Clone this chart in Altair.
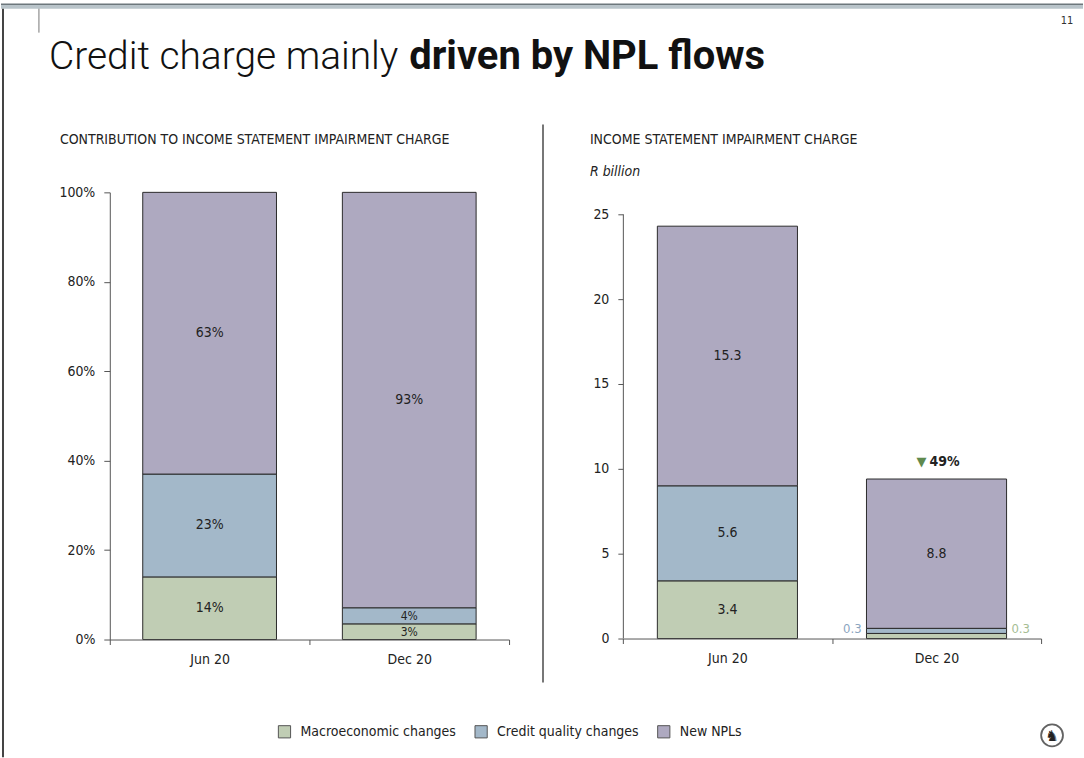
import altair as alt
import pandas as pd

# ---------------- data ----------------
periods = ["Jun 20", "Dec 20"]
series = ["Macroeconomic changes", "Credit quality changes", "New NPLs"]
colors = ["#c0cdb4", "#a3b8c9", "#aea9c0"]

pct_jun = [14, 23, 63]
pct_dec = [3.5, 3.6, 92.9]
pct_labels_jun = ["14%", "23%", "63%"]
pct_labels_dec = ["3%", "4%", "93%"]

rbn_jun = [3.4, 5.6, 15.3]
rbn_dec = [0.3, 0.3, 8.8]
rbn_labels_jun = ["3.4", "5.6", "15.3"]
rbn_labels_dec = ["0.3", "0.3", "8.8"]

change_label = "49%"

pct_ticks = [0, 20, 40, 60, 80, 100]
rbn_ticks = [0, 5, 10, 15, 20, 25]

title_light = "Credit charge mainly"
title_bold = "driven by NPL flows"
left_sub = "CONTRIBUTION TO INCOME STATEMENT IMPAIRMENT CHARGE"
right_sub = "INCOME STATEMENT IMPAIRMENT CHARGE"
right_unit = "R billion"
page_no = "11"

NARROW = "Liberation Sans Narrow, DejaVu Sans Condensed, Arial Narrow, sans-serif"


def frame(vals_a, vals_b, labs_a, labs_b):
    rows = []
    for p, vals, labs in [(periods[0], vals_a, labs_a), (periods[1], vals_b, labs_b)]:
        for i, (s, v, l) in enumerate(zip(series, vals, labs)):
            rows.append({"period": p, "series": s, "order": i, "value": v, "label": l})
    return pd.DataFrame(rows)


pct_df = frame(pct_jun, pct_dec, pct_labels_jun, pct_labels_dec)
rbn_df = frame(rbn_jun, rbn_dec, rbn_labels_jun, rbn_labels_dec)
one = pd.DataFrame({"k": [0]})

color = alt.Color(
    "series:N",
    scale=alt.Scale(domain=series, range=colors),
    legend=alt.Legend(
        title=None,
        orient="none",
        direction="horizontal",
        legendX=168,
        legendY=533,
        symbolType="square",
        symbolSize=150,
        symbolStrokeColor="#555",
        symbolStrokeWidth=1,
        labelFont=NARROW,
        labelFontSize=14,
        labelColor="#222",
        labelOffset=9,
        columnPadding=16,
    ),
)

xband = alt.Scale(domain=periods, paddingInner=0, paddingOuter=0)
xaxis = alt.Axis(
    title=None,
    labelAngle=0,
    tickBand="extent",
    tickSize=5,
    labelPadding=8,
    labelFont=NARROW,
    labelFontSize=14,
    labelColor="#222",
    domainColor="#555",
    tickColor="#555",
    grid=False,
    zindex=1,
)
BAR_FRAC = 0.67


def stacked(df):
    return (
        alt.Chart(df)
        .transform_stack(stack="value", as_=["y0", "y1"], groupby=["period"],
                         sort=[alt.SortField("order", order="ascending")])
        .transform_calculate(mid="(datum.y0 + datum.y1) / 2")
    )


# ---------------- left panel ----------------
W1, H1 = 400, 448
base1 = stacked(pct_df)
yscale1 = alt.Scale(domain=[0, 100])

bars1 = base1.mark_bar(stroke="#2b2b2b", strokeWidth=1, width=alt.RelativeBandSize(BAR_FRAC)).encode(
    x=alt.X("period:N", sort=periods, scale=xband, axis=xaxis),
    y=alt.Y("y0:Q", scale=yscale1,
            axis=alt.Axis(title=None, values=pct_ticks, labelExpr="datum.value + '%'",
                          tickSize=6, labelPadding=9, labelFont=NARROW, labelFontSize=14,
                          labelColor="#222", domainColor="#555", tickColor="#555", grid=False,
                          zindex=1)),
    y2="y1:Q",
    color=color,
)
labels1 = base1.mark_text(font=NARROW, color="#222").encode(
    x=alt.X("period:N", sort=periods, scale=xband),
    y=alt.Y("mid:Q", scale=yscale1),
    text="label:N",
    size=alt.condition("datum.value < 5", alt.value(12), alt.value(14)),
)

page_bg = alt.Chart(one).mark_rect(color="white").encode(
    x=alt.value(-109), x2=alt.value(975), y=alt.value(-192), y2=alt.value(566))
top_band = alt.Chart(one).mark_rect(color="#b9c4ca").encode(
    x=alt.value(-109), x2=alt.value(975), y=alt.value(-188), y2=alt.value(-184))
top_line = alt.Chart(one).mark_rule(color="#6d777c", strokeWidth=1.5).encode(
    x=alt.value(-109), x2=alt.value(975), y=alt.value(-188.5))
left_border = alt.Chart(one).mark_rule(color="#444", strokeWidth=2).encode(
    x=alt.value(-107), y=alt.value(-184), y2=alt.value(566))
short_line = alt.Chart(one).mark_rule(color="#777", strokeWidth=1).encode(
    x=alt.value(-71), y=alt.value(-184), y2=alt.value(-160))
divider = alt.Chart(one).mark_rule(color="#777", strokeWidth=2).encode(
    x=alt.value(434), y=alt.value(-68), y2=alt.value(491))

pg = alt.Chart(one).mark_text(text=page_no, font=NARROW, fontSize=11, color="#333",
                              align="center", baseline="middle").encode(
    x=alt.value(959), y=alt.value(-172))
t1 = alt.Chart(one).mark_text(text=title_light, font="Roboto", fontWeight=300, fontSize=39,
                              color="#111", align="left", baseline="alphabetic").encode(
    x=alt.value(-61), y=alt.value(-124))
t2 = alt.Chart(one).mark_text(text=title_bold, font="Roboto", fontWeight="bold", fontSize=40,
                              color="#111", align="left", baseline="alphabetic").encode(
    x=alt.value(300), y=alt.value(-124))
sub1 = alt.Chart(one).mark_text(text=left_sub, font=NARROW, fontSize=14, color="#222",
                                align="left", baseline="middle").encode(
    x=alt.value(-50), y=alt.value(-52))
logo_ring = alt.Chart(one).mark_point(shape="circle", size=480, filled=False,
                                      color="#222", strokeWidth=1.8).encode(
    x=alt.value(944), y=alt.value(544))
logo_glyph = alt.Chart(one).mark_text(text="♞", font="DejaVu Sans", fontSize=15, color="#222",
                                      align="center", baseline="middle").encode(
    x=alt.value(944), y=alt.value(545))

left = alt.layer(page_bg, top_band, top_line, left_border, short_line, divider, pg, t1, t2,
                 sub1, logo_ring, logo_glyph, bars1, labels1).properties(width=W1, height=H1)

# ---------------- right panel ----------------
W2, H2 = 419, 447
base2 = stacked(rbn_df)
yscale2 = alt.Scale(domain=[0, 447 / 17.0], nice=False)

bars2 = base2.mark_bar(stroke="#2b2b2b", strokeWidth=1, width=alt.RelativeBandSize(BAR_FRAC)).encode(
    x=alt.X("period:N", sort=periods, scale=xband, axis=xaxis),
    y=alt.Y("y0:Q", scale=yscale2,
            axis=alt.Axis(title=None, values=rbn_ticks, domain=False,
                          tickSize=5, labelPadding=9, labelFont=NARROW, labelFontSize=14,
                          labelColor="#222", tickColor="#555", grid=False, zindex=1)),
    y2="y1:Q",
    color=color,
)
yrule2 = alt.Chart(one).mark_rule(color="#555", strokeWidth=1).encode(
    x=alt.value(0.5), y=alt.datum(0, scale=yscale2), y2=alt.datum(rbn_ticks[-1]))
labels2 = base2.transform_filter("datum.value >= 1").mark_text(
    font=NARROW, fontSize=14, color="#222").encode(
    x=alt.X("period:N", sort=periods, scale=xband),
    y=alt.Y("mid:Q", scale=yscale2),
    text="label:N",
)
small_blue = base2.transform_filter(
    "datum.value < 1 && datum.series == 'Credit quality changes'").mark_text(
    font=NARROW, fontSize=13, color="#8aa5bf", align="right", dx=-75, dy=-2).encode(
    x=alt.X("period:N", sort=periods, scale=xband),
    y=alt.Y("mid:Q", scale=yscale2),
    text="label:N",
)
small_green = base2.transform_filter(
    "datum.value < 1 && datum.series == 'Macroeconomic changes'").mark_text(
    font=NARROW, fontSize=13, color="#a5bd93", align="left", dx=75, dy=-4).encode(
    x=alt.X("period:N", sort=periods, scale=xband),
    y=alt.Y("y1:Q", scale=yscale2),
    text="label:N",
)
top_dec = base2.transform_filter(
    "datum.period == 'Dec 20' && datum.series == 'New NPLs'")
tri = top_dec.mark_text(text="▼", font="DejaVu Sans", fontSize=13, color="#5f8a4e",
                        align="center", dx=-15, dy=-17).encode(
    x=alt.X("period:N", sort=periods, scale=xband),
    y=alt.Y("y1:Q", scale=yscale2),
)
chg = top_dec.mark_text(text=change_label, font=NARROW, fontSize=14, fontWeight="bold",
                        color="#222", align="left", dx=-7, dy=-17).encode(
    x=alt.X("period:N", sort=periods, scale=xband),
    y=alt.Y("y1:Q", scale=yscale2),
)
sub2 = alt.Chart(one).mark_text(text=right_sub, font=NARROW, fontSize=14, color="#222",
                                align="left", baseline="middle").encode(
    x=alt.value(-33), y=alt.value(-52))
unit2 = alt.Chart(one).mark_text(text=right_unit, font=NARROW, fontSize=14, fontStyle="italic",
                                 color="#222", align="left", baseline="middle").encode(
    x=alt.value(-33), y=alt.value(-20))

right = alt.layer(sub2, unit2, bars2, yrule2, labels2, small_blue, small_green, tri, chg).properties(
    width=W2, height=H2)

chart = (
    alt.hconcat(left, right, spacing=114, bounds="flush")
    .resolve_scale(y="independent")
    .properties(padding=0, background="white")
    .configure_view(stroke="transparent", strokeWidth=0)
)

chart.save("out.html", embed_options={"renderer": "svg", "actions": False})
